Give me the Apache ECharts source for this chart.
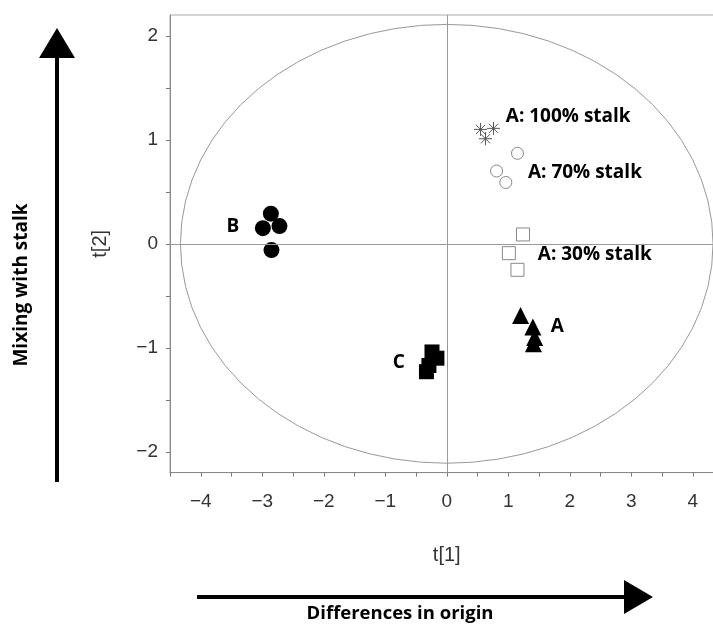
<!DOCTYPE html>
<html>
<head>
<meta charset="utf-8">
<script src="https://cdn.jsdelivr.net/npm/echarts@6/dist/echarts.min.js"></script>
<style>
html,body{margin:0;padding:0;background:#fff;overflow:hidden;width:713px;height:626px;}
#chart{width:740px;height:626px;}
</style>
</head>
<body>
<div id="chart"></div>
<script>
// ---- data (t[1], t[2]) ----
const stalk100 = [[0.55, 1.10], [0.76, 1.11], [0.63, 1.01]];
const stalk70  = [[1.15, 0.87], [0.81, 0.70], [0.96, 0.59]];
const stalk30  = [[1.24, 0.09], [1.01, -0.09], [1.15, -0.25]];
const groupA   = [[1.20, -0.69], [1.40, -0.80], [1.43, -0.90], [1.41, -0.96]];
const groupB   = [[-2.86, 0.29], [-2.99, 0.15], [-2.72, 0.17], [-2.85, -0.06]];
const groupC   = [[-0.24, -1.04], [-0.16, -1.10], [-0.29, -1.17], [-0.33, -1.23]];
const annotations = [
  [0.96, 1.22, 'A: 100% stalk'],
  [1.32, 0.68, 'A: 70% stalk'],
  [1.48, -0.10, 'A: 30% stalk'],
  [-3.58, 0.17, 'B'],
  [-0.88, -1.14, 'C'],
  [1.69, -0.80, 'A']
];
const ellipseRadii = [4.33, 2.11];
const xRange = [-4.5, 4.5];
const yRange = [-2.2, 2.2];
const xTickValues = [-4.5,-4,-3.5,-3,-2.5,-2,-1.5,-1,-0.5,0,0.5,1,1.5,2,2.5,3,3.5,4,4.5];
const xLabelValues = [-4,-3,-2,-1,0,1,2,3,4];
const yTickValues = [-2,-1.5,-1,-0.5,0,0.5,1,1.5,2];
const yLabelValues = [-2,-1,0,1,2];
const xAxisTitle = 't[1]';
const yAxisTitle = 't[2]';
const xArrowText = 'Differences in origin';
const yArrowText = 'Mixing with stalk';

const fmt = v => (v < 0 ? '\u2212' + Math.abs(v) : String(v));
const axisFont = 'Liberation Sans, Arial, sans-serif';
const boldFont = '"Open Sans", "Noto Sans", sans-serif';

const chart = echarts.init(document.getElementById('chart'), null, {renderer: 'canvas', width: 740, height: 626});

const option = {
  backgroundColor: '#fff',
  animation: false,
  grid: {
    left: 170, top: 15, width: 553.5, height: 457.6,
    show: true, borderColor: '#aaa', borderWidth: 1, containLabel: false
  },
  xAxis: {
    type: 'value', min: xRange[0], max: xRange[1],
    name: xAxisTitle, nameLocation: 'middle', nameGap: 73,
    nameTextStyle: {fontFamily: axisFont, fontSize: 20, color: '#333'},
    axisLine: {show: true, onZero: false, lineStyle: {color: '#888', width: 1}},
    axisTick: {show: true, inside: false, length: 4, customValues: xTickValues, lineStyle: {color: '#777'}},
    axisLabel: {customValues: xLabelValues, formatter: fmt, margin: 20, fontFamily: axisFont, fontSize: 19, color: '#333'},
    splitLine: {show: false}
  },
  yAxis: {
    type: 'value', min: yRange[0], max: yRange[1],
    name: yAxisTitle, nameLocation: 'middle', nameGap: 60, nameRotate: 90,
    nameTextStyle: {fontFamily: axisFont, fontSize: 20, color: '#333'},
    axisLine: {show: true, onZero: false, lineStyle: {color: '#888', width: 1}},
    axisTick: {show: true, inside: false, length: 4, customValues: yTickValues, lineStyle: {color: '#777'}},
    axisLabel: {customValues: yLabelValues, formatter: fmt, margin: 12, fontFamily: axisFont, fontSize: 19, color: '#333'},
    splitLine: {show: false}
  },
  series: [
    {
      type: 'custom', silent: true, z: 1,
      data: [[0, 0]],
      renderItem: function (params, api) {
        const c = api.coord([api.value(0), api.value(1)]);
        const s = api.size(ellipseRadii);
        const rx = s[0], ry = s[1];
        const d = 'M ' + (c[0] - rx) + ' ' + c[1] +
          ' A ' + rx + ' ' + ry + ' 0 1 0 ' + (c[0] + rx) + ' ' + c[1] +
          ' A ' + rx + ' ' + ry + ' 0 1 0 ' + (c[0] - rx) + ' ' + c[1] + ' Z';
        return {type: 'path', shape: {pathData: d}, style: {fill: 'none', stroke: '#999', lineWidth: 1}};
      },
      markLine: {
        silent: true, symbol: 'none', label: {show: false},
        lineStyle: {color: '#999', width: 1, type: 'solid'},
        data: [{xAxis: 0}, {yAxis: 0}]
      }
    },
    {
      type: 'scatter', data: stalk100, z: 3,
      symbol: 'path://M10 0 L10 20 M0 10 L20 10 M3 3 L17 17 M3 17 L17 3',
      symbolSize: 13,
      itemStyle: {color: 'transparent', borderColor: '#555', borderWidth: 1, opacity: 1}
    },
    {
      type: 'scatter', data: stalk70, z: 3, symbol: 'circle', symbolSize: 12,
      itemStyle: {color: '#fff', borderColor: '#888', borderWidth: 1, opacity: 1}
    },
    {
      type: 'scatter', data: stalk30, z: 3, symbol: 'rect', symbolSize: 13,
      itemStyle: {color: '#fff', borderColor: '#888', borderWidth: 1, opacity: 1}
    },
    {
      type: 'scatter', data: groupA, z: 3, symbol: 'triangle', symbolSize: 17,
      itemStyle: {color: '#000', opacity: 1}
    },
    {
      type: 'scatter', data: groupB, z: 3, symbol: 'circle', symbolSize: 16,
      itemStyle: {color: '#000', opacity: 1}
    },
    {
      type: 'scatter', data: groupC, z: 3, symbol: 'rect', symbolSize: 15,
      itemStyle: {color: '#000', opacity: 1}
    },
    {
      type: 'scatter', data: annotations, z: 4, symbolSize: 0, silent: true,
      itemStyle: {opacity: 1},
      label: {
        show: true, position: 'right', distance: 0,
        formatter: p => p.value[2],
        fontFamily: boldFont, fontWeight: 'bold', fontSize: 19, color: '#000', opacity: 1
      }
    }
  ],
  graphic: [
    // vertical arrow
    {type: 'line', shape: {x1: 57, y1: 482, x2: 57, y2: 55}, style: {stroke: '#000', lineWidth: 4}},
    {type: 'polygon', shape: {points: [[57, 28], [39, 58], [75, 58]]}, style: {fill: '#000'}},
    {type: 'text', x: 22, y: 285, rotation: Math.PI / 2,
     style: {text: yArrowText, font: 'bold 19px "Open Sans", "Noto Sans", sans-serif', fill: '#000', align: 'center', verticalAlign: 'middle'}},
    // horizontal arrow
    {type: 'line', shape: {x1: 197, y1: 597, x2: 626, y2: 597}, style: {stroke: '#000', lineWidth: 4}},
    {type: 'polygon', shape: {points: [[653, 597], [624, 580], [624, 614]]}, style: {fill: '#000'}},
    {type: 'text', x: 400, y: 614,
     style: {text: xArrowText, font: 'bold 18.5px "Open Sans", "Noto Sans", sans-serif', fill: '#000', align: 'center', verticalAlign: 'middle'}}
  ]
};
chart.setOption(option);
</script>
</body>
</html>
